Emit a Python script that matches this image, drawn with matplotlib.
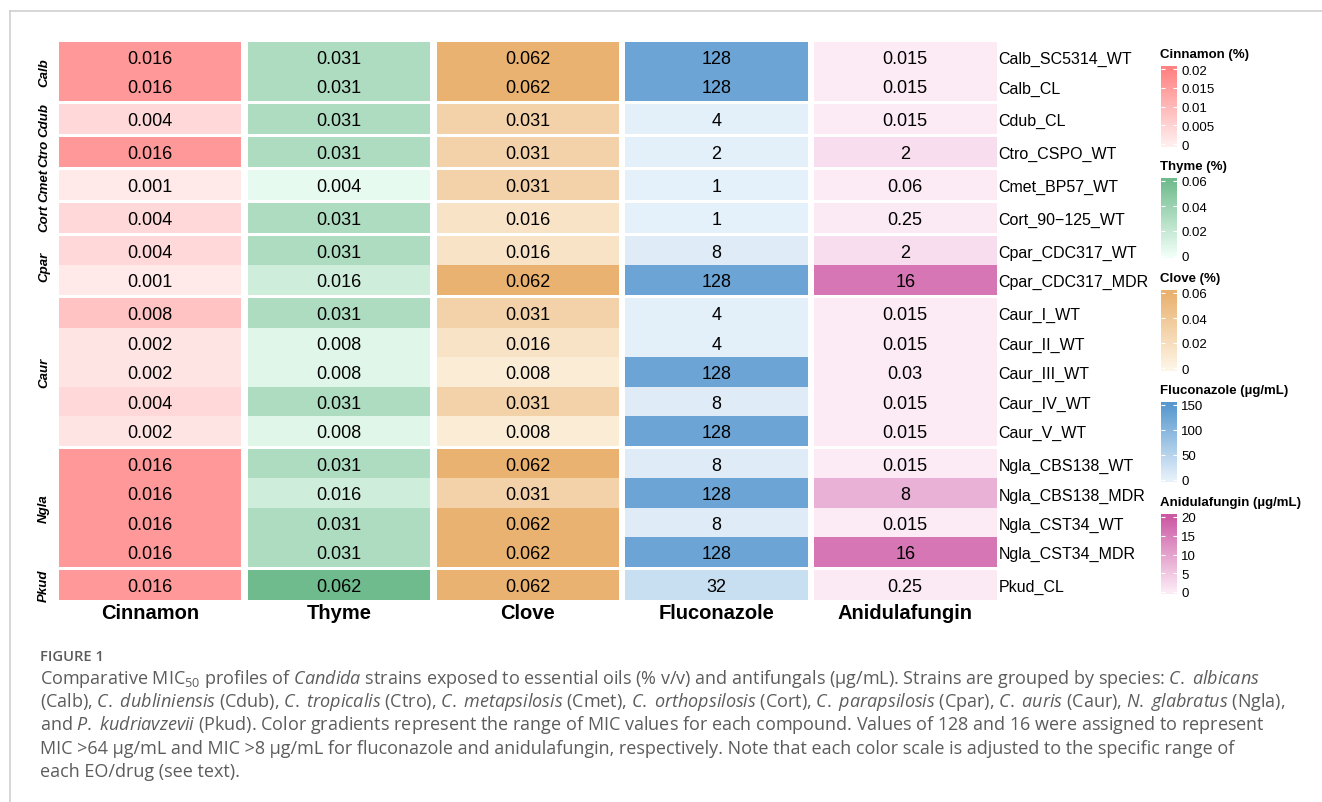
from matplotlib import pyplot as plt
from matplotlib.colors import LinearSegmentedColormap, Normalize
from matplotlib.lines import Line2D
import numpy as np

plt.rcParams.update({
    'font.family': 'Liberation Sans',
    'mathtext.fontset': 'custom',
    'mathtext.rm': 'Open Sans',
    'mathtext.it': 'Open Sans:italic',
})

# ---- data (MIC50 values) ----
strains = ['Calb_SC5314_WT', 'Calb_CL', 'Cdub_CL', 'Ctro_CSPO_WT', 'Cmet_BP57_WT',
           'Cort_90\u2212125_WT', 'Cpar_CDC317_WT', 'Cpar_CDC317_MDR', 'Caur_I_WT',
           'Caur_II_WT', 'Caur_III_WT', 'Caur_IV_WT', 'Caur_V_WT', 'Ngla_CBS138_WT',
           'Ngla_CBS138_MDR', 'Ngla_CST34_WT', 'Ngla_CST34_MDR', 'Pkud_CL']
groups = ['Calb', 'Cdub', 'Ctro', 'Cmet', 'Cort', 'Cpar', 'Caur', 'Ngla', 'Pkud']
group_sizes = [2, 1, 1, 1, 1, 2, 5, 4, 1]

compounds = ['Cinnamon', 'Thyme', 'Clove', 'Fluconazole', 'Anidulafungin']
cinnamon = [0.016, 0.016, 0.004, 0.016, 0.001, 0.004, 0.004, 0.001, 0.008,
            0.002, 0.002, 0.004, 0.002, 0.016, 0.016, 0.016, 0.016, 0.016]
thyme = [0.031, 0.031, 0.031, 0.031, 0.004, 0.031, 0.031, 0.016, 0.031,
         0.008, 0.008, 0.031, 0.008, 0.031, 0.016, 0.031, 0.031, 0.062]
clove = [0.062, 0.062, 0.031, 0.031, 0.031, 0.016, 0.016, 0.062, 0.031,
         0.016, 0.008, 0.031, 0.008, 0.062, 0.031, 0.062, 0.062, 0.062]
fluconazole = [128, 128, 4, 2, 1, 1, 8, 128, 4, 4, 128, 8, 128, 8, 128, 8, 128, 32]
anidulafungin = [0.015, 0.015, 0.015, 2, 0.06, 0.25, 2, 16, 0.015, 0.015,
                 0.03, 0.015, 0.015, 0.015, 8, 0.015, 16, 0.25]
values = [cinnamon, thyme, clove, fluconazole, anidulafungin]

legend_titles = ['Cinnamon (%)', 'Thyme (%)', 'Clove (%)',
                 'Fluconazole (\u00b5g/mL)', 'Anidulafungin (\u00b5g/mL)']
legend_ticks = [[0, 0.005, 0.01, 0.015, 0.02], [0, 0.02, 0.04, 0.06],
                [0, 0.02, 0.04, 0.06], [0, 50, 100, 150], [0, 5, 10, 15, 20]]
legend_ticklabels = [['0', '0.005', '0.01', '0.015', '0.02'], ['0', '0.02', '0.04', '0.06'],
                     ['0', '0.02', '0.04', '0.06'], ['0', '50', '100', '150'],
                     ['0', '5', '10', '15', '20']]
scale_max = [0.02, 0.06, 0.06, 150, 20]
low_colors = ['#ffeeee', '#f0fff7', '#fef5e6', '#e6f1fa', '#fcebf5']
high_colors = ['#ff8383', '#70bb8d', '#e9b270', '#5798cf', '#cc59a4']

cmaps = [LinearSegmentedColormap.from_list(c, [lo, hi])
         for c, lo, hi in zip(compounds, low_colors, high_colors)]
norms = [Normalize(0, m, clip=True) for m in scale_max]

# ---- layout (pixels) ----
W, H = 1322, 803
fig = plt.figure(figsize=(W / 100, H / 100), dpi=100)

def rect(x, y, w, h):
    return [x / W, 1 - (y + h) / H, w / W, h / H]

col_x0, col_w, col_step = 59, 182.5, 188.75
row_top, row_h, gap = 43, 29.45, 3.45

start = 0
top = row_top
for g, n in zip(groups, group_sizes):
    h = n * row_h
    for ci, comp in enumerate(compounds):
        ax = fig.add_axes(rect(col_x0 + ci * col_step, top, col_w, h))
        vals = np.array(values[ci][start:start + n], dtype=float)
        ax.pcolormesh(vals.reshape(-1, 1), cmap=cmaps[ci], norm=norms[ci])
        ax.set_xlim(0, 1)
        ax.set_ylim(n, 0)
        ax.set_axis_off()
        for i, v in enumerate(vals):
            ax.text(0.5, i + 0.56, f'{v:g}', ha='center', va='center', fontsize=13)
            if ci == len(compounds) - 1:
                ax.text(1.0 + 2 / col_w, i + 0.56, strains[start + i], ha='left',
                        va='center', fontsize=11.5, transform=ax.transData)
    fig.text(44 / W, 1 - (top + h / 2) / H, g, rotation=90, ha='center', va='center',
             fontsize=9.5, fontweight='bold', fontstyle='italic')
    start += n
    top += h + gap

for ci, comp in enumerate(compounds):
    fig.text((col_x0 + ci * col_step + col_w / 2) / W, 1 - 614 / H, comp,
             ha='center', va='center', fontsize=14.5, fontweight='bold')

# ---- colour legends ----
for li in range(len(compounds)):
    t = 55 + li * 112
    bar_top, tick_top, tick_0, bar_bot = t + 11.5, t + 15, t + 90, t + 92.5
    fig.text(1160 / W, 1 - t / H, legend_titles[li], ha='left', va='center',
             fontsize=9.5, fontweight='bold')
    cax = fig.add_axes(rect(1161, bar_top, 16, bar_bot - bar_top))
    per_px = scale_max[li] / (tick_0 - tick_top)
    y0 = -(bar_bot - tick_0) * per_px
    y1 = scale_max[li] + (tick_top - bar_top) * per_px
    grad = np.linspace(y0, y1, 200).reshape(-1, 1)
    cax.imshow(grad, extent=[0, 1, y0, y1], origin='lower', aspect='auto',
               cmap=cmaps[li], norm=norms[li])
    cax.set_xlim(0, 1)
    cax.set_ylim(y0, y1)
    cax.hlines(legend_ticks[li], 0, 0.25, color='white', lw=0.8)
    cax.hlines(legend_ticks[li], 0.75, 1, color='white', lw=0.8)
    cax.set_yticks(legend_ticks[li])
    cax.set_yticklabels(legend_ticklabels[li], fontsize=9.5)
    cax.yaxis.tick_right()
    cax.tick_params(axis='y', length=0, pad=3)
    cax.set_xticks([])
    for s in cax.spines.values():
        s.set_visible(False)

# ---- frame and caption ----
grey = '#cfcfcf'
fig.add_artist(Line2D([10 / W, 1], [1 - 12 / H, 1 - 12 / H], color=grey, lw=1.2,
                      transform=fig.transFigure))
fig.add_artist(Line2D([10 / W, 10 / W], [0, 1 - 12 / H], color=grey, lw=1.2,
                      transform=fig.transFigure))

cap_color = '#5c5c5c'
fig.text(40 / W, 1 - 657 / H, 'FIGURE 1', ha='left', va='center', fontsize=10.6,
         family='Open Sans', fontweight='semibold', color=cap_color)
caption = [
    r'Comparative MIC$_{50}$ profiles of $\mathit{Candida}$ strains exposed to essential oils (% v/v) '
    r'and antifungals (µg/mL). Strains are grouped by species: $\mathit{C.}$ $\mathit{albicans}$',
    r'(Calb), $\mathit{C.}$ $\mathit{dubliniensis}$ (Cdub), $\mathit{C.}$ $\mathit{tropicalis}$ (Ctro), '
    r'$\mathit{C.}$ $\mathit{metapsilosis}$ (Cmet), $\mathit{C.}$ $\mathit{orthopsilosis}$ (Cort), '
    r'$\mathit{C.}$ $\mathit{parapsilosis}$ (Cpar), $\mathit{C.}$ $\mathit{auris}$ (Caur), '
    r'$\mathit{N.}$ $\mathit{glabratus}$ (Ngla),',
    r'and $\mathit{P.}$ $\mathit{kudriavzevii}$ (Pkud). Color gradients represent the range of MIC values '
    r'for each compound. Values of 128 and 16 were assigned to represent',
    'MIC >64 \u00b5g/mL and MIC >8 \u00b5g/mL for fluconazole and anidulafungin, respectively. '
    'Note that each color scale is adjusted to the specific range of',
    'each EO/drug (see text).',
]
for k, line in enumerate(caption):
    fig.text(40 / W, 1 - (679 + k * 23.2) / H, line, ha='left', va='center',
             fontsize=13.0, family='Open Sans', color=cap_color)

fig.savefig('out.png', dpi=100)
